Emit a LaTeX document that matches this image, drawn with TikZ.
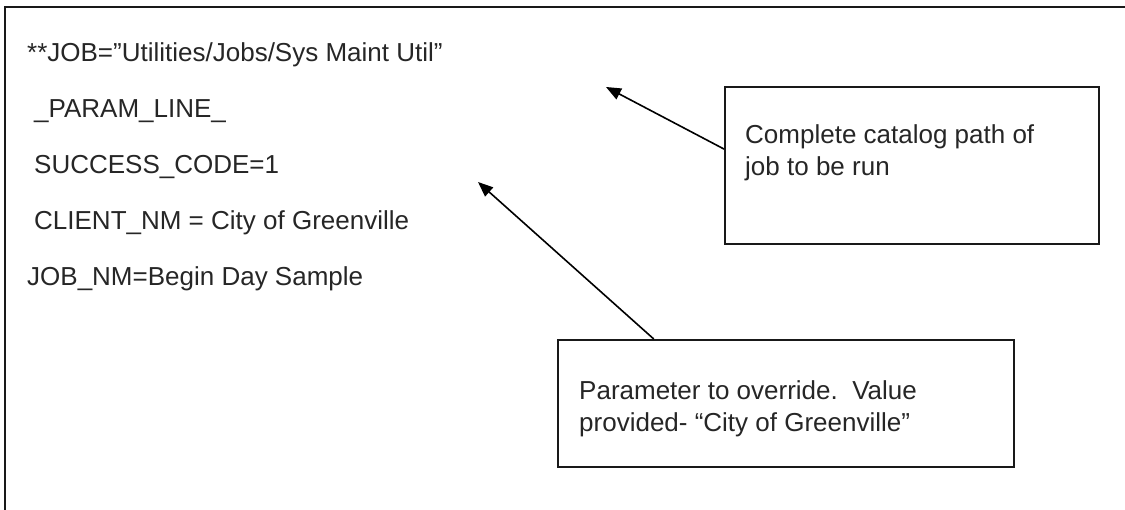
\documentclass[tikz,border=0pt]{standalone}
\usepackage{fontspec}
\setmainfont{Liberation Sans}
\usetikzlibrary{arrows.meta}
\begin{document}
\begin{tikzpicture}[x=1pt,y=-1pt,
  txt/.style={anchor=base west,inner sep=0pt,text=black!85,font=\fontsize{26}{32}\selectfont},
  notebox/.style={draw=black!90,line width=2pt,rectangle,anchor=north west,inner sep=0pt},
  pointer/.style={draw=black,line width=1.6pt,-{Triangle[length=15pt,width=12pt]}}]
\useasboundingbox (0,0) rectangle (1125,510);
% open frame: left and top edges only
\draw[line width=2.6pt,black!90] (5,510) -- (5,7) -- (1125,7);
% job definition lines
\node[txt] (l1) at (27,62)  {**JOB=”Utilities/Jobs/Sys Maint Util”};
\node[txt] (l2) at (34,118) {\_PARAM\_LINE\_};
\node[txt] (l3) at (34,174) {SUCCESS\_CODE=1};
\node[txt] (l4) at (34,230) {CLIENT\_NM = City of Greenville};
\node[txt] (l5) at (27,286) {JOB\_NM=Begin Day Sample};
% annotation boxes
\node[notebox,minimum width=374pt,minimum height=157pt] (b1) at (724,86) {};
\node[txt,align=left,anchor=north west] (n1) at (745,124)
  {Complete catalog path of\\job to be run};
\node[notebox,minimum width=456pt,minimum height=127pt] (b2) at (557,339) {};
\node[txt,align=left,anchor=north west] (n2) at (579,380)
  {Parameter to override.\ \ Value\\provided- “City of Greenville”};
% arrow targets
\coordinate (tip1) at (606,87);
\coordinate (tip2) at (478,182);
\draw[pointer] (b1.175.3) -- (tip1);
\draw[pointer] (b2.154.3) -- (tip2);
\end{tikzpicture}
\end{document}
